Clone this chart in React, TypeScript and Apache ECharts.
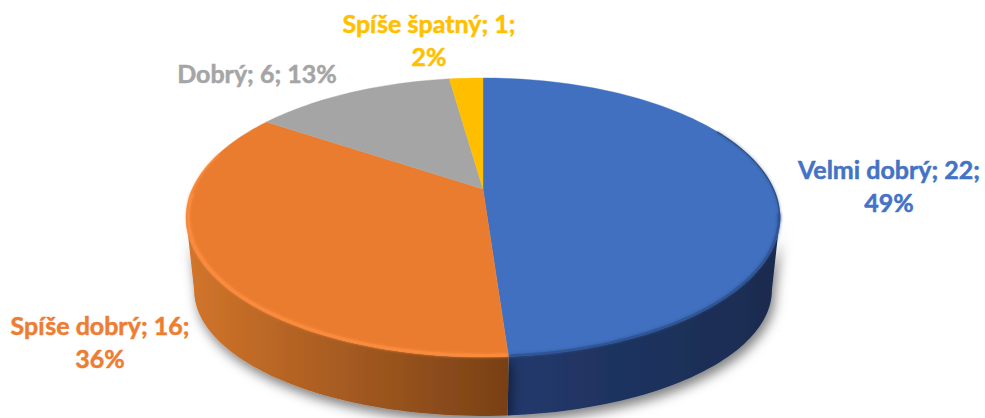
import React, { useEffect, useRef } from "react";
import * as echarts from "echarts";

// Poll results: answers per rating
const categories = ["Velmi dobrý", "Spíše dobrý", "Dobrý", "Spíše špatný"];
const counts = [22, 16, 6, 1];
const sliceColors = ["#4070BF", "#EA7C30", "#A5A5A5", "#FFBF00"];
const labelColors = ["#4472C4", "#ED7D31", "#A5A5A5", "#FFC000"];
const wallGradients = [
  ["#22396C", "#1A2B4E"],
  ["#D2752B", "#784016"],
];

const total = counts.reduce((a, b) => a + b, 0);
const RAD = Math.PI / 180;

// Perspective projection of the disc: theta is clockwise from 12 o'clock.
const disc = { x: 483, y: 189, rx: 290.7, ry: 133.7, k: 0.204 };
const top3d = (theta: number, r = 1): [number, number] => {
  const u = r * Math.sin(theta * RAD);
  const v = r * Math.cos(theta * RAD);
  const d = 1 + disc.k * v;
  return [disc.x + (disc.rx * u) / d, disc.y - (disc.ry * v) / d];
};
// The lower rim is a slightly narrower and flatter copy of the upper one.
const bottom3d = (theta: number): [number, number] => {
  const [x, y] = top3d(theta);
  return [disc.x + 0.973 * (x - disc.x), 290 + (y - 217.5) * 0.903];
};

const sweep = (from: number, to: number, fn: (t: number) => [number, number]) => {
  const pts: [number, number][] = [];
  const steps = Math.max(2, Math.ceil(Math.abs(to - from) / 1.5));
  for (let i = 0; i <= steps; i++) pts.push(fn(from + ((to - from) * i) / steps));
  return pts;
};

const angleAt = (i: number) =>
  (counts.slice(0, i).reduce((a, b) => a + b, 0) / total) * 360;

// Visible side of the cylinder lies between the two silhouette tangents.
const WALL_FROM = 101.8;
const WALL_TO = 258.2;

const labelLines = (i: number) => {
  const pct = Math.round((counts[i] / total) * 100);
  const head = `${categories[i]}; ${counts[i]};`;
  return i === 2 ? [`${head} ${pct}%`] : [head, `${pct}%`];
};
const labelAnchors: [number, number][] = [
  [889, 169],
  [100, 325],
  [257, 73],
  [429, 23],
];

const renderWall = (params: any) => {
  const i = params.dataIndex;
  const from = Math.max(angleAt(i), WALL_FROM);
  const to = Math.min(angleAt(i + 1), WALL_TO);
  if (to <= from) return { type: "group", children: [] };
  const pts = [...sweep(from, to, top3d), ...sweep(to, from, bottom3d)];
  const [c0, c1] = wallGradients[i];
  return {
    type: "polygon",
    shape: { points: pts },
    style: {
      fill: new echarts.graphic.LinearGradient(0, 0, 1, 0, [
        { offset: 0, color: c0 },
        { offset: 1, color: c1 },
      ]),
      shadowBlur: 12,
      shadowColor: "rgba(0,0,0,0.5)",
      shadowOffsetX: 3,
      shadowOffsetY: 6,
    },
  };
};

const renderTop = (params: any) => {
  const i = params.dataIndex;
  const pts = [[disc.x, disc.y], ...sweep(angleAt(i), angleAt(i + 1), top3d)];
  return {
    type: "polygon",
    shape: { points: pts },
    style: { fill: sliceColors[i], stroke: sliceColors[i], lineWidth: 0.4 },
  };
};

// Bevel along the rim: a bright edge on the orange slice, a soft dark one on the blue.
const rimLine = (from: number, to: number, r: number, stroke: string, lineWidth: number, opacity: number) => ({
  type: "polyline",
  shape: { points: sweep(from, to, (t) => top3d(t, r)) },
  style: { stroke, lineWidth, fill: "none", opacity, shadowBlur: 3, shadowColor: stroke },
});

const renderBevel = (params: any) => {
  const i = params.dataIndex;
  if (i === 0) {
    return {
      type: "group",
      children: [
        rimLine(62, 104, 0.999, "#24406F", 1.2, 0.7),
        rimLine(100, 176, 0.997, "#2E5191", 2.5, 0.8),
      ],
    };
  }
  if (i === 1) {
    return {
      type: "group",
      children: [
        rimLine(176, 268, 0.993, "#FA8B3C", 3, 1),
        rimLine(266, 286, 0.996, "#FA8B3C", 1.6, 0.7),
      ],
    };
  }
  return { type: "group", children: [] };
};

const renderLabel = (params: any) => {
  const i = params.dataIndex;
  const [x, y] = labelAnchors[i];
  return {
    type: "group",
    children: labelLines(i).map((line, n) => ({
      type: "text",
      style: {
        text: line,
        x,
        y: y + n * 33,
        fill: labelColors[i],
        stroke: labelColors[i],
        lineWidth: 0.5,
        font: 'bold 25px Lato, "Noto Sans", sans-serif',
        textAlign: "center",
        textVerticalAlign: "middle",
      },
    })),
  };
};

const seriesData = counts.map((value, i) => ({ name: categories[i], value }));
const layer = (renderItem: any, z: number) => ({
  type: "custom",
  coordinateSystem: "none",
  renderItem,
  data: seriesData,
  z,
  silent: true,
});

export default function App() {
  const ref = useRef<HTMLDivElement>(null);
  useEffect(() => {
    const chart = echarts.init(ref.current!, null, { renderer: "svg" });
    chart.setOption({
      animation: false,
      backgroundColor: "#ffffff",
      series: [
        layer(renderWall, 1),
        layer(renderTop, 2),
        layer(renderBevel, 3),
        layer(renderLabel, 4),
      ],
    });
    return () => chart.dispose();
  }, []);
  return <div ref={ref} style={{ position: "fixed", left: 0, top: 0, width: 985, height: 418 }} />;
}
